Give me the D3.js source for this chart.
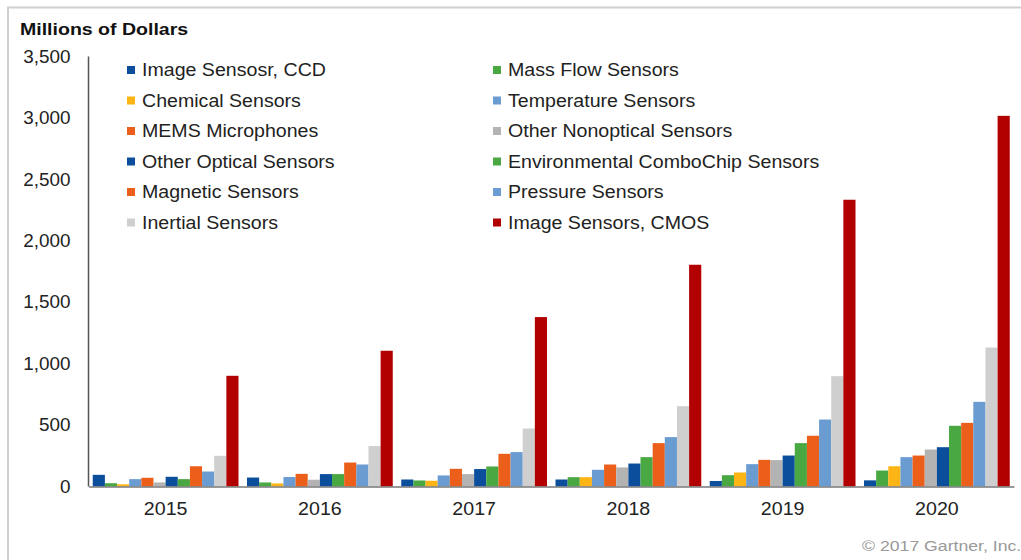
<!DOCTYPE html>
<html>
<head>
<meta charset="utf-8">
<script src="https://cdn.jsdelivr.net/npm/d3@7"></script>
<style>
  body { margin: 0; background: #fff; }
  svg { display: block; font-family: "Liberation Sans", Arial, sans-serif; }
</style>
</head>
<body>
<script>
// set the dimensions and margins of the graph
var margin = {top: 56.5, right: 6, bottom: 73.5, left: 88.5},
  fullWidth = 1021, fullHeight = 560,
  width = fullWidth - margin.left - margin.right,
  height = fullHeight - margin.top - margin.bottom;

// data
var years = ["2015", "2016", "2017", "2018", "2019", "2020"];
var seriesNames = ["Image Sensosr, CCD", "Mass Flow Sensors", "Chemical Sensors", "Temperature Sensors",
  "MEMS Microphones", "Other Nonoptical Sensors", "Other Optical Sensors", "Environmental ComboChip Sensors",
  "Magnetic Sensors", "Pressure Sensors", "Inertial Sensors", "Image Sensors, CMOS"];
var seriesColors = ["#0B4F9C", "#4AA843", "#FDB515", "#6A9BD1", "#EB5F1A", "#B3B3B3",
  "#0B4F9C", "#4AA843", "#EB5F1A", "#6A9BD1", "#CFCFCF", "#B20000"];
var imageCCD        = [95, 73, 57, 57, 45, 50];
var massFlow        = [27, 33, 49, 76, 92, 130];
var chemical        = [18, 25, 47, 76, 114, 165];
var temperature     = [60, 77, 90, 136, 182, 239];
var memsMicrophones = [71, 103, 144, 179, 217, 252];
var otherNonoptical = [33, 55, 101, 155, 215, 301];
var otherOptical    = [79, 101, 142, 187, 252, 320];
var environmental   = [60, 101, 163, 239, 353, 494];
var magnetic        = [165, 195, 266, 353, 413, 518];
var pressure        = [122, 179, 280, 402, 545, 689];
var inertial        = [250, 329, 472, 654, 898, 1131];
var imageCMOS       = [901, 1105, 1379, 1805, 2334, 3017];
var seriesValues = [imageCCD, massFlow, chemical, temperature, memsMicrophones, otherNonoptical,
  otherOptical, environmental, magnetic, pressure, inertial, imageCMOS];
var yTicks = [0, 500, 1000, 1500, 2000, 2500, 3000, 3500];

var svg = d3.select("body")
  .append("svg")
  .attr("width", fullWidth)
  .attr("height", fullHeight);

// outer frame (only left and top edges are visible)
svg.append("path")
  .attr("d", "M8,560 V7.5 H1021")
  .attr("fill", "none")
  .attr("stroke", "#cfcfcf")
  .attr("stroke-width", 2);

// title (the source picture is slightly stretched sideways, so text gets a small x scale)
svg.append("text")
  .attr("transform", "translate(20,35) scale(1.15,1)")
  .attr("font-size", 17)
  .attr("font-weight", "bold")
  .attr("fill", "#111")
  .text("Millions of Dollars");

var g = svg.append("g")
  .attr("transform", "translate(" + margin.left + "," + margin.top + ")");

// scales
var x0 = d3.scaleBand()
  .domain(years)
  .range([0, width - 1])
  .paddingInner(0.055)
  .paddingOuter(0.0275);
var x1 = d3.scaleBand()
  .domain(d3.range(seriesNames.length))
  .range([0, x0.bandwidth()]);
var y = d3.scaleLinear()
  .domain([0, 3500])
  .range([height, 0]);

// Y axis: labels only, plus the vertical line
var yAxis = g.append("g")
  .call(d3.axisLeft(y).tickValues(yTicks).tickFormat(d3.format(",")).tickSize(0).tickPadding(0));
yAxis.select(".domain").remove();
yAxis.selectAll("text")
  .attr("x", null)
  .attr("transform", "translate(-18,0) scale(1.05,1)")
  .attr("font-size", 18)
  .attr("font-family", "'Liberation Sans', Arial, sans-serif")
  .attr("fill", "#222");

// bars
var groups = g.append("g")
  .selectAll("g")
  .data(years)
  .enter()
  .append("g")
  .attr("transform", function (d) { return "translate(" + x0(d) + ",0)"; });

groups.selectAll("rect")
  .data(function (d, i) {
    return seriesValues.map(function (vals, s) { return {s: s, value: vals[i]}; });
  })
  .enter()
  .append("rect")
  .attr("x", function (d) { return x1(d.s); })
  .attr("y", function (d) { return y(d.value); })
  .attr("width", x1.bandwidth())
  .attr("height", function (d) { return height - y(d.value); })
  .attr("fill", function (d) { return seriesColors[d.s]; });

// X axis
var xAxis = g.append("g")
  .attr("transform", "translate(0," + height + ")")
  .call(d3.axisBottom(x0).tickSize(0).tickPadding(16));
xAxis.select(".domain")
  .attr("stroke", "#777")
  .attr("stroke-width", 1.5);
xAxis.selectAll("text")
  .attr("transform", "scale(1.09,1)")
  .attr("font-size", 18)
  .attr("font-family", "'Liberation Sans', Arial, sans-serif")
  .attr("fill", "#222");

g.append("line")
  .attr("x1", 0).attr("x2", 0)
  .attr("y1", 0).attr("y2", height)
  .attr("stroke", "#555")
  .attr("stroke-width", 1.5);

// legend, two columns, row-wise order
var legend = svg.append("g")
  .selectAll("g")
  .data(seriesNames)
  .enter()
  .append("g")
  .attr("transform", function (d, i) {
    var col = i % 2, row = Math.floor(i / 2);
    return "translate(" + (col === 0 ? 127 : 493) + "," + (70 + row * 30.5) + ")";
  });
legend.append("rect")
  .attr("x", 0)
  .attr("y", -4)
  .attr("width", 8)
  .attr("height", 8)
  .attr("fill", function (d, i) { return seriesColors[i]; });
legend.append("text")
  .attr("transform", "translate(15,0) scale(1.12,1)")
  .attr("dy", "0.35em")
  .attr("font-size", 17.5)
  .attr("fill", "#222")
  .text(function (d) { return d; });

// source note
svg.append("text")
  .attr("transform", "translate(862,551) scale(1.14,1)")
  .attr("font-size", 15.5)
  .attr("fill", "#999")
  .text("\u00A9 2017 Gartner, Inc.");
</script>
</body>
</html>
